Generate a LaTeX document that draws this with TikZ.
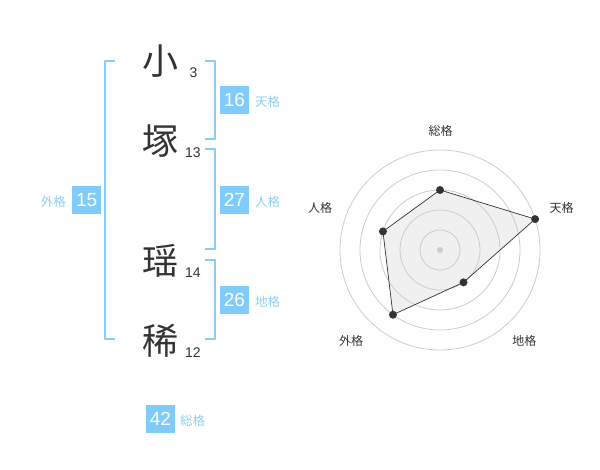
\documentclass[tikz,border=0pt]{standalone}
\usepackage{fontspec}
\setmainfont{Liberation Sans}
\newfontfamily\jp{Noto Sans CJK JP}
\definecolor{boxblue}{RGB}{127,204,250}
\definecolor{brblue}{RGB}{135,206,250}
\definecolor{lblblue}{RGB}{140,208,245}
\definecolor{ink}{RGB}{51,51,51}
\definecolor{ringgray}{RGB}{204,204,204}
\definecolor{polyfill}{RGB}{240,240,240}
\tikzset{
  kanji/.style={font=\jp\fontsize{36}{36}\selectfont, text=ink, inner sep=0pt},
  strk/.style={font=\fontsize{14}{14}\selectfont, text=ink, inner sep=0pt},
  numbox/.style={fill=boxblue, text=white, minimum width=29pt, minimum height=28pt, inner sep=0pt, font=\fontsize{19}{19}\selectfont},
  kaku/.style={font=\jp\fontsize{12.5}{12.5}\selectfont, text=lblblue, inner sep=0pt},
  bracket/.style={draw=brblue, line width=2pt},
  ring/.style={draw=ringgray, line width=0.8pt},
  rlabel/.style={font=\jp\fontsize{12}{12}\selectfont, text=ink, inner sep=0pt},
  vdot/.style={circle, fill=ink, inner sep=0pt, minimum size=8pt},
}
\begin{document}
\begin{tikzpicture}[x=1pt,y=-1pt]
\useasboundingbox (0,0) rectangle (600,470);
% brackets
\draw[bracket] (115,60.7) -- (105,60.7) -- (105,339.3) -- (115,339.3);
\draw[bracket] (205,60.7) -- (215,60.7) -- (215,139.3) -- (205,139.3);
\draw[bracket] (205,149.3) -- (215,149.3) -- (215,249.3) -- (205,249.3);
\draw[bracket] (205,260) -- (215,260) -- (215,339.3) -- (205,339.3);
% characters
\node[kanji] (c1) at (160,61) {小};
\node[kanji] (c2) at (160,141) {塚};
\node[kanji] (c3) at (160,261) {瑶};
\node[kanji] (c4) at (160,341) {稀};
\node[strk] (s1) at (193.5,73) {3};
\node[strk] (s2) at (193,153) {13};
\node[strk] (s3) at (193,273) {14};
\node[strk] (s4) at (193,353) {12};
% boxes
\node[numbox] (ten) at (234.5,100) {16};
\node[kaku, anchor=west] (tenl) at (255,102) {天格};
\node[numbox] (jin) at (234.5,200) {27};
\node[kaku, anchor=west] (jinl) at (255,202) {人格};
\node[numbox] (chi) at (234.5,300) {26};
\node[kaku, anchor=west] (chil) at (255,302) {地格};
\node[numbox] (gai) at (86.7,200) {15};
\node[kaku, anchor=east] (gail) at (66,202) {外格};
\node[numbox] (sou) at (160.5,419) {42};
\node[kaku, anchor=west] (soul) at (180,421) {総格};
% radar
\begin{scope}[shift={(440,250)}, yscale=-1]
  \coordinate (p1) at (90:60);
  \coordinate (p2) at (18:100);
  \coordinate (p3) at (-54:40);
  \coordinate (p4) at (234:80);
  \coordinate (p5) at (162:60);
  \fill[polyfill] (p1) -- (p2) -- (p3) -- (p4) -- (p5) -- cycle;
  \foreach \r in {20,40,60,80,100} \draw[ring] (0,0) circle (\r);
  \fill[ringgray] (0,0) circle (3);
  \draw[ink, line width=0.7pt] (p1) -- (p2) -- (p3) -- (p4) -- (p5) -- cycle;
  \foreach \p in {p1,p2,p3,p4,p5} \node[vdot] at (\p) {};
\end{scope}
\node[rlabel] (l1) at (440.7,130.5) {総格};
\node[rlabel] (l2) at (561.7,208.3) {天格};
\node[rlabel] (l3) at (524.3,341) {地格};
\node[rlabel] (l4) at (351,341) {外格};
\node[rlabel] (l5) at (320,208.3) {人格};
\end{tikzpicture}
\end{document}
